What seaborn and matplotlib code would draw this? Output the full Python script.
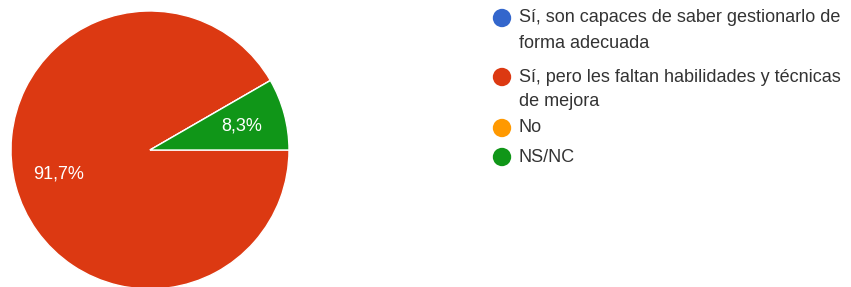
import matplotlib
matplotlib.use("Agg")
import matplotlib.pyplot as plt
import seaborn as sns

# survey answers (counts: 11 of 12 vs 1 of 12)
labels = [
    "Sí, son capaces de saber gestionarlo de\nforma adecuada",
    "Sí, pero les faltan habilidades y técnicas\nde mejora",
    "No",
    "NS/NC",
]
counts = [0, 11, 0, 1]
colors = ["#3366CC", "#DC3912", "#FF9900", "#109618"]

sns.set_theme(style="white")
plt.rcParams["font.family"] = ["Liberation Sans", "DejaVu Sans"]

W, H = 851, 287
fig = plt.figure(figsize=(W / 100, H / 100), dpi=100)

# pie axes: centre (150, 150) px, radius 139 px
r = 139
cx, cy = 150, 150
ax = fig.add_axes([(cx - r) / W, (H - cy - r) / H, 2 * r / W, 2 * r / H])


def fmt_pct(p):
    if p < 0.05:
        return ""
    return f"{p:.1f}%".replace(".", ",")


wedges, texts, autotexts = ax.pie(
    counts, colors=colors, startangle=0, counterclock=False,
    autopct=fmt_pct, pctdistance=0.68,
    wedgeprops=dict(edgecolor="white", linewidth=1),
    textprops=dict(color="white", fontsize=13),
)
ax.set_xlim(-1, 1)
ax.set_ylim(-1, 1)
ax.set_aspect("equal")
ax.axis("off")

# legend drawn in pixel space
lg = fig.add_axes([0, 0, 1, 1], zorder=-1)
lg.set_xlim(0, W)
lg.set_ylim(H, 0)
lg.axis("off")
rows = [18, 77, 128, 157]
for lab, col, y in zip(labels, colors, rows):
    lg.scatter([502], [y], s=175, color=col, edgecolors="none")
    for i, line in enumerate(lab.split("\n")):
        lg.text(519, y + i * 25, line, va="center", ha="left",
                fontsize=13, color="#333333")

fig.savefig("out.png", dpi=100)
